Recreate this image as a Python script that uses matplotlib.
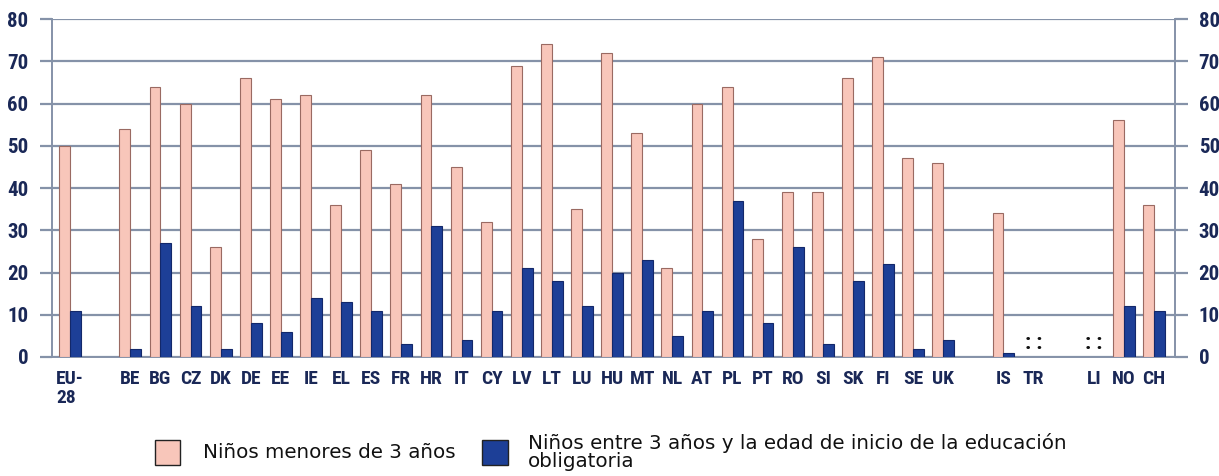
import numpy as np
import matplotlib
matplotlib.use("Agg")
import matplotlib.pyplot as plt
from matplotlib.patches import Rectangle

categories = ["EU-\n28", "", "BE", "BG", "CZ", "DK", "DE", "EE", "IE", "EL", "ES", "FR", "HR",
              "IT", "CY", "LV", "LT", "LU", "HU", "MT", "NL", "AT", "PL", "PT", "RO", "SI",
              "SK", "FI", "SE", "UK", "", "IS", "TR", "", "LI", "NO", "CH"]
under3 = [50, np.nan, 54, 64, 60, 26, 66, 61, 62, 36, 49, 41, 62, 45, 32, 69, 74, 35, 72, 53,
          21, 60, 64, 28, 39, 39, 66, 71, 47, 46, np.nan, 34, np.nan, np.nan, np.nan, 56, 36]
from3 = [11, np.nan, 2, 27, 12, 2, 8, 6, 14, 13, 11, 3, 31, 4, 11, 21, 18, 12, 20, 23,
         5, 11, 37, 8, 26, 3, 18, 22, 2, 4, np.nan, 1, np.nan, np.nan, np.nan, 12, 11]
missing = ["TR", "LI"]
yticks = [0, 10, 20, 30, 40, 50, 60, 70, 80]
legend_labels = ["Niños menores de 3 años",
                 "Niños entre 3 años y la edad de inicio de la educación\nobligatoria"]

PINK = "#f8c6ba"
PINK_EDGE = "#9a6a62"
BLUE = "#1d3f97"
BLUE_EDGE = "#13286a"
NAVY = "#1a2857"
GRID = "#8592a8"

from matplotlib import font_manager as fm
_avail = set(f.name for f in fm.fontManager.ttflist)
narrow = [f for f in ["Liberation Sans Narrow", "Arial Narrow", "Roboto Condensed",
                      "Archivo Narrow", "Barlow Semi Condensed", "DejaVu Sans"] if f in _avail]
wide = ["DejaVu Sans"]

fig = plt.figure(figsize=(12.19, 4.76), dpi=100)
ax = fig.add_axes([0.0427, 0.250, 0.9213, 0.710])

x = np.arange(len(categories))
w = 0.36
ax.bar(x - w / 2, under3, width=w, color=PINK, edgecolor=PINK_EDGE, linewidth=0.8, zorder=3)
ax.bar(x + w / 2, from3, width=w, color=BLUE, edgecolor=BLUE_EDGE, linewidth=0.8, zorder=3)

for c in missing:
    i = categories.index(c)
    ax.text(i, 0.6, ": :", ha="center", va="bottom", fontsize=16, fontweight="bold",
            color="#111111", family=narrow, zorder=4)

ax.set_xlim(-0.6, 36.7)
ax.set_ylim(0, 80)
ax.set_yticks(yticks)
ax.yaxis.grid(True, color=GRID, linewidth=1.6, zorder=0)
ax.set_axisbelow(True)
for s in ["left", "right", "bottom"]:
    ax.spines[s].set_color(GRID)
    ax.spines[s].set_linewidth(1.4)
ax.spines["top"].set_visible(False)

ax.tick_params(axis="y", which="both", left=True, right=True, labelleft=True, labelright=True,
               length=9, width=1.6, color=GRID, pad=8, labelsize=15, labelcolor=NAVY)
for lab in ax.get_yticklabels():
    lab.set_fontweight("bold")
    lab.set_family(narrow)

ax.set_xticks(x)
ax.set_xticklabels(categories)
ax.tick_params(axis="x", length=0, pad=9, labelsize=14, labelcolor=NAVY)
for lab in ax.get_xticklabels():
    lab.set_fontweight("bold")
    lab.set_family(narrow)
    lab.set_verticalalignment("top")
    lab.set_multialignment("left")
    lab.set_linespacing(1.1)

# legend
fig.patches.append(Rectangle((155 / 1219, 1 - 465 / 476), 25 / 1219, 25 / 476,
                             transform=fig.transFigure, facecolor=PINK, edgecolor="#222222",
                             linewidth=1.0))
fig.text(203 / 1219, 1 - 452 / 476, legend_labels[0], ha="left", va="center",
         fontsize=14.3, family=wide, color="#111111")
fig.patches.append(Rectangle((482 / 1219, 1 - 465 / 476), 26 / 1219, 25 / 476,
                             transform=fig.transFigure, facecolor=BLUE, edgecolor="#222222",
                             linewidth=1.0))
fig.text(528 / 1219, 1 - 452 / 476, legend_labels[1], ha="left", va="center",
         fontsize=14.3, family=wide, color="#111111", linespacing=0.95)

fig.savefig("out.png", dpi=100)
